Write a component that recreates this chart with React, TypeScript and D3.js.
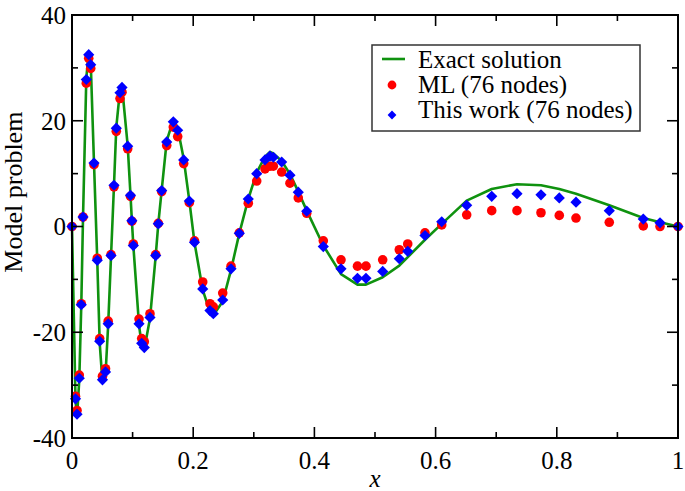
import * as d3 from "d3";
import { useEffect, useRef } from "react";

// node positions (shared by both numerical solutions)
const nodeX = [
  0, 0.0058, 0.0083, 0.012, 0.0153, 0.0182, 0.0236, 0.0276, 0.0309, 0.0363,
  0.0417, 0.0457, 0.0503, 0.0553, 0.0597, 0.0644, 0.0693, 0.0731, 0.0792, 0.0825,
  0.0919, 0.0965, 0.0988, 0.1012, 0.1106, 0.115, 0.1193, 0.1287, 0.1381, 0.1424,
  0.148, 0.1563, 0.1672, 0.1744, 0.1843, 0.1936, 0.2021, 0.2157, 0.2277, 0.2332,
  0.2487, 0.2624, 0.2761, 0.2909, 0.3048, 0.3185, 0.3267, 0.3322, 0.346, 0.3597,
  0.3734, 0.3873, 0.4147, 0.4439, 0.4711, 0.4851, 0.5127, 0.5401, 0.554, 0.5825,
  0.6101, 0.6513, 0.6926, 0.7343, 0.7739, 0.8041, 0.8317, 0.8866, 0.9427, 0.9703, 1,
];

const mlValues = [
  0, -32.1, -34.8, -28.1, -14.6, 1.8, 27.1, 31.8, 29.9, 11.7,
  -6.0, -21.2, -28.3, -26.9, -17.9, -5.3, 7.5, 18.0, 24.2, 25.4,
  14.7, 5.7, 1.0, -3.3, -17.5, -21.2, -21.8, -16.5, -5.3, 0.6,
  6.6, 15.3, 18.8, 17.0, 11.9, 4.5, -2.7, -10.5, -14.6, -15.2,
  -12.6, -7.5, -1.2, 4.4, 8.6, 10.9, 11.4, 11.4, 10.3, 8.2,
  5.4, 2.5, -2.7, -6.3, -7.5, -7.5, -6.3, -4.4, -3.3, -1.2,
  0.3, 2.2, 3.0, 3.0, 2.6, 2.1, 1.6, 0.8, 0.1, 0.0, 0,
];

const thisWorkValues = [
  0, -32.6, -35.5, -28.7, -14.8, 1.8, 27.8, 32.5, 30.6, 12.0,
  -6.4, -21.7, -29.0, -27.5, -18.4, -5.5, 7.8, 18.6, 25.3, 26.3,
  15.2, 5.9, 1.1, -3.6, -18.4, -22.1, -22.9, -17.2, -5.5, 0.5,
  6.8, 16.0, 19.8, 18.2, 12.6, 4.8, -3.0, -11.8, -15.9, -16.5,
  -13.9, -8.0, -1.3, 5.2, 10.0, 12.6, 13.3, 13.1, 12.2, 9.7,
  6.5, 2.9, -3.8, -8.0, -9.8, -9.8, -8.5, -6.1, -4.7, -1.7,
  0.9, 4.0, 5.7, 6.2, 6.0, 5.4, 4.6, 3.0, 1.4, 0.7, 0,
];

const exactX = [
  0, 0.0058, 0.0083, 0.012, 0.0153, 0.0182, 0.0236, 0.0276, 0.0309, 0.0363,
  0.0417, 0.0457, 0.0503, 0.0553, 0.0597, 0.0644, 0.0693, 0.0731, 0.0792, 0.0825,
  0.0919, 0.0965, 0.0988, 0.1012, 0.1106, 0.115, 0.1193, 0.1287, 0.1381, 0.1424,
  0.148, 0.1563, 0.1672, 0.1744, 0.1843, 0.1936, 0.2021, 0.2157, 0.2277, 0.2332,
  0.2487, 0.2624, 0.2761, 0.2909, 0.3048, 0.3185, 0.3267, 0.3322, 0.346, 0.3597,
  0.3734, 0.3873, 0.4147, 0.4439, 0.4711, 0.4851, 0.5127, 0.5401, 0.5825, 0.6101,
  0.6513, 0.6926, 0.7343, 0.7739, 0.8041, 0.8317, 0.8866, 0.9427, 0.9703, 1,
];

const exactValues = [
  0, -33.0, -36.0, -29.0, -15.0, 1.8, 28.0, 33.0, 31.0, 12.0,
  -6.5, -22.0, -29.5, -28.0, -18.6, -5.6, 7.8, 18.8, 25.8, 26.6,
  15.3, 6.0, 1.1, -3.6, -18.6, -22.5, -23.2, -17.4, -5.6, 0.5,
  6.9, 16.2, 20.2, 18.6, 12.8, 4.9, -3.0, -12.0, -16.2, -16.8,
  -14.2, -8.2, -1.3, 5.2, 10.2, 13.2, 14.1, 13.8, 12.4, 9.9,
  6.6, 3.0, -3.6, -9.0, -11.0, -11.0, -9.6, -7.4, -2.5, 0.5,
  4.9, 7.1, 8.0, 7.8, 7.1, 6.2, 4.0, 1.6, 0.8, 0,
];

const xTicks = [0, 0.2, 0.4, 0.6, 0.8, 1];
const xTickLabels = ["0", "0.2", "0.4", "0.6", "0.8", "1"];
const xMinor = [0.1, 0.3, 0.5, 0.7, 0.9];
const yTicks = [-40, -20, 0, 20, 40];
const yTickLabels = ["-40", "-20", "0", "20", "40"];
const yMinor = [-30, -10, 10, 30];
const legendLabels = ["Exact solution", "ML (76 nodes)", "This work (76 nodes)"];

const GREEN = "#0f920f";
const RED = "#ff0000";
const BLUE = "#0000ff";
const FONT = "'Liberation Serif', 'Times New Roman', serif";

export default function App() {
  const ref = useRef<SVGSVGElement | null>(null);

  useEffect(() => {
    const el = ref.current;
    if (!el) return;
    const svg = d3.select(el);
    svg.selectAll("*").remove();

    const W = 685;
    const H = 491;
    const margin = { top: 15, right: 7, bottom: 53, left: 72 };
    const iw = W - margin.left - margin.right;
    const ih = H - margin.top - margin.bottom;

    const x = d3.scaleLinear().domain([0, 1]).range([0, iw]);
    const y = d3.scaleLinear().domain([-40, 40]).range([ih, 0]);

    const g = svg
      .append("g")
      .attr("transform", `translate(${margin.left},${margin.top})`);

    // exact solution
    const line = d3
      .line<number>()
      .x((_, i) => x(exactX[i]))
      .y((d) => y(d));
    g.append("path")
      .datum(exactValues)
      .attr("fill", "none")
      .attr("stroke", GREEN)
      .attr("stroke-width", 2.6)
      .attr("stroke-linejoin", "round")
      .attr("d", line);

    // ML
    g.selectAll("circle.ml")
      .data(mlValues)
      .join("circle")
      .attr("class", "ml")
      .attr("cx", (_, i) => x(nodeX[i]))
      .attr("cy", (d) => y(d))
      .attr("r", 4.8)
      .attr("fill", RED);

    // this work
    const dm = 5.6;
    g.selectAll("path.tw")
      .data(thisWorkValues)
      .join("path")
      .attr("class", "tw")
      .attr("transform", (d, i) => `translate(${x(nodeX[i])},${y(d)})`)
      .attr("d", `M0,${-dm}L${dm},0L0,${dm}L${-dm},0Z`)
      .attr("fill", BLUE);

    // frame
    g.append("rect")
      .attr("width", iw)
      .attr("height", ih)
      .attr("fill", "none")
      .attr("stroke", "#000")
      .attr("stroke-width", 2);

    const major = 11;
    const minor = 6;
    const ticks = g.append("g").attr("stroke", "#000").attr("stroke-width", 1.6);
    const addX = (vals: number[], len: number) => {
      vals.forEach((v) => {
        ticks.append("line").attr("x1", x(v)).attr("x2", x(v)).attr("y1", ih).attr("y2", ih - len);
        ticks.append("line").attr("x1", x(v)).attr("x2", x(v)).attr("y1", 0).attr("y2", len);
      });
    };
    const addY = (vals: number[], len: number) => {
      vals.forEach((v) => {
        ticks.append("line").attr("x1", 0).attr("x2", len).attr("y1", y(v)).attr("y2", y(v));
        ticks.append("line").attr("x1", iw).attr("x2", iw - len).attr("y1", y(v)).attr("y2", y(v));
      });
    };
    addX(xTicks, major);
    addX(xMinor, minor);
    addY(yTicks, major);
    addY(yMinor, minor);

    g.selectAll("text.xl")
      .data(xTicks)
      .join("text")
      .attr("class", "xl")
      .attr("x", (d) => x(d))
      .attr("y", ih + 31)
      .attr("text-anchor", "middle")
      .attr("font-family", FONT)
      .attr("font-size", 25)
      .text((_, i) => xTickLabels[i]);

    g.selectAll("text.yl")
      .data(yTicks)
      .join("text")
      .attr("class", "yl")
      .attr("x", -6)
      .attr("y", (d) => y(d))
      .attr("dy", "0.35em")
      .attr("text-anchor", "end")
      .attr("font-family", FONT)
      .attr("font-size", 25)
      .text((_, i) => yTickLabels[i]);

    g.append("text")
      .attr("x", iw / 2)
      .attr("y", ih + 49)
      .attr("text-anchor", "middle")
      .attr("font-family", FONT)
      .attr("font-style", "italic")
      .attr("font-size", 25)
      .text("x");

    g.append("text")
      .attr("transform", `translate(-50,${y(6.5)}) rotate(-90)`)
      .attr("text-anchor", "middle")
      .attr("font-family", FONT)
      .attr("font-size", 26)
      .text("Model problem");

    // legend
    const lg = svg.append("g").attr("transform", "translate(372,45)");
    lg.append("rect")
      .attr("width", 268)
      .attr("height", 86)
      .attr("fill", "#fff")
      .attr("stroke", "#333")
      .attr("stroke-width", 1.5);
    lg.append("line")
      .attr("x1", 10)
      .attr("x2", 33)
      .attr("y1", 14)
      .attr("y2", 14)
      .attr("stroke", GREEN)
      .attr("stroke-width", 2.6);
    lg.append("circle").attr("cx", 20).attr("cy", 40).attr("r", 4.4).attr("fill", RED);
    const ld = 4.4;
    lg.append("path")
      .attr("transform", "translate(20,70)")
      .attr("d", `M0,${-ld}L${ld},0L0,${ld}L${-ld},0Z`)
      .attr("fill", BLUE);
    lg.selectAll("text")
      .data(legendLabels)
      .join("text")
      .attr("x", 46)
      .attr("y", (_, i) => 23 + i * 25)
      .attr("font-family", FONT)
      .attr("font-size", 25)
      .text((d) => d);
  }, []);

  return (
    <svg
      ref={ref}
      width={685}
      height={491}
      style={{ position: "absolute", left: 0, top: 0, background: "#fff" }}
    />
  );
}
